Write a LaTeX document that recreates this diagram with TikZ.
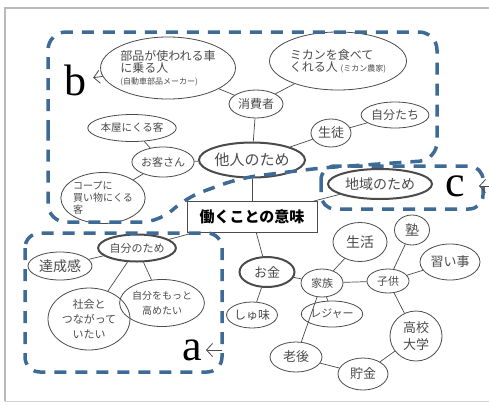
\documentclass[tikz,border=0pt]{standalone}
\usepackage{fontspec}
\newfontfamily\jp{Noto Sans CJK JP}
\newfontfamily\lbl{Liberation Serif}
\usetikzlibrary{shapes.geometric,arrows.meta}
\newcommand\jfs[2]{\jp\fontsize{#1}{#2}\selectfont}
\definecolor{ink}{RGB}{75,75,75}
\definecolor{dblue}{RGB}{62,106,150}
\begin{document}
\begin{tikzpicture}[x=1pt,y=-1pt,
  bub/.style={ellipse, draw=ink, line width=0.8pt, inner sep=0pt, text=ink, align=center},
  boldbub/.style={bub, line width=2pt},
  ln/.style={draw=ink, line width=0.7pt},
  dsh/.style={draw=dblue, line width=3.5pt, dash pattern=on 12pt off 9pt, rounded corners=18pt},
  lab/.style={font=\lbl\fontsize{44}{44}\selectfont, inner sep=0pt},
  arr/.style={draw=ink, line width=0.8pt, -{Straight Barb[length=6pt,width=13pt]}}
]
\useasboundingbox (0,0) rectangle (489,405);
\fill[white] (0,0) rectangle (489,405);
\draw[gray!55, line width=1.5pt] (5,401) -- (5,8) -- (492,8);
\draw[gray!35, line width=1pt] (5,401) -- (492,401);

% nodes of region b
\node[bub, align=left, minimum width=127pt, minimum height=62pt] (car) at (168,68)
  {\jfs{12}{15}部品が使われる車\\\jfs{12}{15}に乗る人\\\jfs{8}{10}(自動車部品メーカー)};
\node[bub, align=left, minimum width=137pt, minimum height=58pt] (mikan) at (338,61)
  {\jfs{12}{16}ミカンを食べて\\\jfs{12}{16}くれる人 {\jfs{8}{10}(ミカン農家)}};
\node[bub, minimum width=54pt, minimum height=28pt, font=\jfs{12}{14}] (cons) at (256,104) {消費者};
\node[bub, minimum width=40pt, minimum height=28pt, font=\jfs{13}{15}] (stu) at (331,133) {生徒};
\node[bub, minimum width=60pt, minimum height=26pt, font=\jfs{12}{14}] (us) at (395,115) {自分たち};
\node[boldbub, minimum width=100pt, minimum height=35pt, font=\jfs{15}{17}] (other) at (252,160) {他人のため};
\node[bub, minimum width=75pt, minimum height=27pt, font=\jfs{10.5}{12}] (book) at (132,128) {本屋にくる客};
\node[bub, minimum width=53pt, minimum height=30pt, font=\jfs{11}{13}] (cust) at (163,162) {お客さん};
\node[bub, align=left, minimum width=73pt, minimum height=51pt, font=\jfs{10}{12}] (coop) at (103,198) {コープに\\買い物にくる\\客};

% central box
\node[draw=ink, line width=0.9pt, fill=white, minimum width=130pt, minimum height=31pt, inner sep=0pt,
  font=\jfs{15}{17}\bfseries] (mean) at (252,217) {働くことの意味};

% region c
\node[boldbub, minimum width=104pt, minimum height=30pt, font=\jfs{14}{16}] (region) at (380,184) {地域のため};

% region a
\node[boldbub, minimum width=70pt, minimum height=27pt, font=\jfs{11}{13}] (self) at (137,248) {自分のため};
\node[bub, minimum width=64pt, minimum height=28pt, font=\jfs{14}{16}] (ach) at (60,266) {達成感};
\node[bub, minimum width=82pt, minimum height=62pt, font=\jfs{11}{15}] (soc) at (89,319) {社会と\\つながって\\いたい};
\node[bub, minimum width=62pt, minimum height=47pt, font=\jfs{10}{15}] (grow) at (162,303) {自分をもっと\\高めたい};

% money branch
\node[boldbub, minimum width=55pt, minimum height=30pt, font=\jfs{13}{15}] (money) at (267,272) {お金};
\node[bub, minimum width=50pt, minimum height=26pt, font=\jfs{12}{14}] (hobby) at (252,315) {しゅ味};
\node[bub, minimum width=42pt, minimum height=28pt, font=\jfs{11}{13}] (fam) at (322,283) {家族};
\node[bub, minimum width=54pt, minimum height=39pt, font=\jfs{14}{16}] (life) at (360,242) {生活};
\node[bub, minimum width=35pt, minimum height=30pt, font=\jfs{14}{16}] (juku) at (412,230) {塾};
\node[bub, minimum width=42pt, minimum height=24pt, font=\jfs{11}{13}] (kid) at (388,281) {子供};
\node[bub, minimum width=60pt, minimum height=36pt, font=\jfs{13}{15}] (lesson) at (450,262) {習い事};
\node[bub, minimum width=52pt, minimum height=26pt, font=\jfs{11}{13}] (leisure) at (332,314) {レジャー};
\node[bub, minimum width=52pt, minimum height=50pt, font=\jfs{13}{17}] (school) at (416,336) {高校\\大学};
\node[bub, minimum width=52pt, minimum height=30pt, font=\jfs{13}{15}] (old) at (296,357) {老後};
\node[bub, minimum width=50pt, minimum height=32pt, font=\jfs{13}{15}] (save) at (363,374) {貯金};

% connectors
\draw[ln] (other) -- (cons);
\draw[ln] (cons) -- (mikan);
\draw[ln] (cons) -- (car);
\draw[ln] (other) -- (stu);
\draw[ln] (stu) -- (us);
\draw[ln] (other) -- (cust);
\draw[ln] (cust) -- (book);
\draw[ln] (cust) -- (coop);
\draw[ln] (other) -- (mean);
\draw[ln] (mean) -- (region);
\draw[ln] (mean) -- (self);
\draw[ln] (mean) -- (money);
\draw[ln] (self) -- (ach);
\draw[ln] (self) -- (soc);
\draw[ln] (self) -- (grow);
\draw[ln] (money) -- (hobby);
\draw[ln] (money) -- (fam);
\draw[ln] (fam) -- (life);
\draw[ln] (fam) -- (kid);
\draw[ln] (fam) -- (leisure);
\draw[ln] (fam) -- (old);
\draw[ln] (kid) -- (juku);
\draw[ln] (kid) -- (lesson);
\draw[ln] (kid) -- (school);
\draw[ln] (school) -- (save);
\draw[ln] (save) -- (old);

% dashed regions
\draw[dsh] (48,150) -- (48,32) -- (437,32) -- (437,160) -- (320,168) -- (240,178) -- (185,198) -- (160,222) -- (48,222) -- cycle;
\draw[dsh, rounded corners=15pt] (25,233) rectangle (222,372);
\draw[dsh, rounded corners=14pt] (321,166) rectangle (483,209);

% labels
\node[lab] (la) at (192,350) {a};
\node[lab] (lb) at (75,80) {b};
\node[lab] (lc) at (455,186) {c};
\coordinate (ra) at (222,350);
\coordinate (rc) at (489,186);
\draw[arr, shorten >=4pt] (ra) -- (la.east);
\draw[arr, shorten >=7pt] (car) -- (lb);
\draw[arr, shorten >=14pt] (rc) -- (lc.east);
\end{tikzpicture}
\end{document}
